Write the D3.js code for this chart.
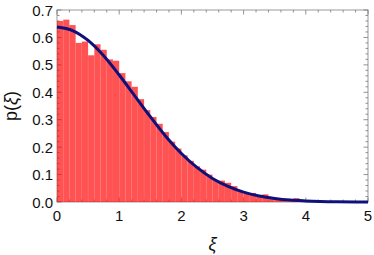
<!DOCTYPE html>
<html>
<head>
<meta charset="utf-8">
<script src="https://cdn.jsdelivr.net/npm/d3@7"></script>
<style>
  body { margin: 0; background: #fff; }
  text { font-family: "Liberation Sans", Arial, sans-serif; fill: #111; }
</style>
</head>
<body>
<div id="chart"></div>
<script>
// histogram bins, width 0.1, starting at xi = 0
const binWidth = 0.1;
const histValues = [
  0.66, 0.665, 0.645, 0.58, 0.585, 0.535, 0.575, 0.555, 0.52, 0.515,
  0.47, 0.44, 0.42, 0.375, 0.335, 0.31, 0.285, 0.255, 0.22, 0.195,
  0.17, 0.15, 0.13, 0.118, 0.1, 0.08, 0.078, 0.07, 0.058, 0.04,
  0.03, 0.033, 0.02, 0.028, 0.012, 0.01, 0.008, 0.006, 0.014, 0.003,
  0.002, 0.0, 0.003, 0.002
];

// fitted curve
const curveX = [0, 0.25, 0.5, 0.75, 1, 1.25, 1.5, 1.75, 2, 2.25, 2.5, 2.75, 3, 3.25, 3.5, 3.75, 4, 4.5, 5];
const curveY = [0.638, 0.625, 0.589, 0.533, 0.463, 0.387, 0.311, 0.239, 0.177, 0.126, 0.086, 0.057, 0.036, 0.022, 0.013, 0.007, 0.004, 0.001, 0.0002];

const xTicks = [0, 1, 2, 3, 4, 5];
const yTicks = [0, 0.1, 0.2, 0.3, 0.4, 0.5, 0.6, 0.7];

let margin = {top: 10, right: 6, bottom: 53, left: 57},
    width = 374 - margin.left - margin.right,
    height = 255 - margin.top - margin.bottom;

const svg = d3.select("#chart")
  .append("svg")
    .attr("width", 374)
    .attr("height", 255)
  .append("g")
    .attr("transform", "translate(" + margin.left + "," + margin.top + ")");

let x = d3.scaleLinear().domain([0, 5]).range([0, width]);
let y = d3.scaleLinear().domain([0, 0.7]).range([height, 0]);

const frameColor = "#999";
const tickColor = "#777";

// frame
svg.append("rect")
  .attr("width", width)
  .attr("height", height)
  .attr("fill", "none")
  .attr("stroke", frameColor)
  .attr("stroke-width", 1);

// minor + major ticks on all four sides (inside)
const xMinor = d3.range(0, 5.0001, 0.2);
const yMinor = d3.range(0, 0.70001, 0.02);
const isMajorX = v => Math.abs(v - Math.round(v)) < 1e-6;
const isMajorY = v => Math.abs(v * 10 - Math.round(v * 10)) < 1e-6;

let ticks = svg.append("g").attr("stroke", tickColor).attr("stroke-width", 0.8);
xMinor.forEach(v => {
  let len = isMajorX(v) ? 4.5 : 2.5;
  ticks.append("line").attr("x1", x(v)).attr("x2", x(v)).attr("y1", height).attr("y2", height - len);
  ticks.append("line").attr("x1", x(v)).attr("x2", x(v)).attr("y1", 0).attr("y2", len);
});
yMinor.forEach(v => {
  let len = isMajorY(v) ? 4.5 : 2.5;
  ticks.append("line").attr("x1", 0).attr("x2", len).attr("y1", y(v)).attr("y2", y(v));
  ticks.append("line").attr("x1", width).attr("x2", width - len).attr("y1", y(v)).attr("y2", y(v));
});

// histogram bars
svg.append("g")
  .selectAll("rect")
  .data(histValues)
  .enter()
  .append("rect")
    .attr("x", (d, i) => x(i * binWidth))
    .attr("width", x(binWidth) - x(0))
    .attr("y", d => y(d))
    .attr("height", d => y(0) - y(d))
    .attr("fill", "rgb(255,0,0)")
    .attr("fill-opacity", 0.68)
    .attr("stroke", "rgba(255,255,255,0.08)")
    .attr("stroke-width", 0.5);

// fitted curve
const line = d3.line()
  .x(d => x(d[0]))
  .y(d => y(d[1]))
  .curve(d3.curveMonotoneX);

svg.append("path")
  .datum(curveX.map((v, i) => [v, curveY[i]]))
  .attr("d", line)
  .attr("fill", "none")
  .attr("stroke", "#10107a")
  .attr("stroke-width", 3);

// tick labels
svg.append("g")
  .selectAll("text")
  .data(xTicks)
  .enter()
  .append("text")
    .attr("x", d => x(d))
    .attr("y", height + 19)
    .attr("text-anchor", "middle")
    .style("font-size", "15px")
    .text(d => d);

svg.append("g")
  .selectAll("text")
  .data(yTicks)
  .enter()
  .append("text")
    .attr("x", -4)
    .attr("y", d => y(d) + 5.5)
    .attr("text-anchor", "end")
    .style("font-size", "15px")
    .text(d => d.toFixed(1));

// axis titles
svg.append("text")
  .attr("transform", "translate(" + (-40) + "," + (height / 2) + ") rotate(-90)")
  .attr("text-anchor", "middle")
  .style("font-size", "18px")
  .html("p(<tspan font-style='italic'>ξ</tspan>)");

svg.append("text")
  .attr("x", width / 2)
  .attr("y", height + 48)
  .attr("text-anchor", "middle")
  .style("font-size", "18px")
  .style("font-style", "italic")
  .text("ξ");
</script>
</body>
</html>
